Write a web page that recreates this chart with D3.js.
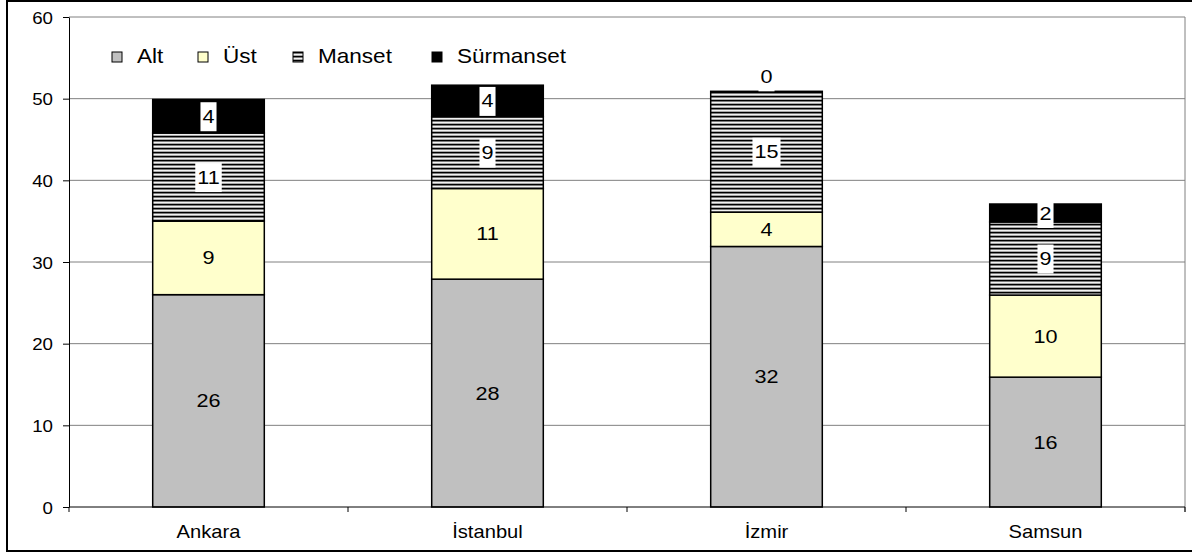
<!DOCTYPE html>
<html>
<head>
<meta charset="utf-8">
<script src="https://cdn.jsdelivr.net/npm/d3@7"></script>
<style>
  body { margin: 0; background: #fff; }
  text { font-family: Arial, "Liberation Sans", sans-serif; fill: #000; }
</style>
</head>
<body>
<div id="chart"></div>
<script>
const categories = ['Ankara', 'İstanbul', 'İzmir', 'Samsun'];
const keys = ['Alt', 'Üst', 'Manset', 'Sürmanset'];
const alt = [26, 27.9, 31.9, 15.9];
const ust = [9, 11.1, 4.2, 10.05];
const manset = [10.8, 8.8, 14.8, 8.95];
const surmanset = [4.1, 3.85, 0, 2.2];
const yTicks = [0, 10, 20, 30, 40, 50, 60];

const dims = { width: 1192, height: 556 };
const plot = { left: 69, right: 1185, top: 17, bottom: 507 };
const sx = 1.17; // text in the source is stretched sideways

const rows = categories.map((c, i) => ({
    cat: c, 'Alt': alt[i], 'Üst': ust[i], 'Manset': manset[i], 'Sürmanset': surmanset[i]
}));

const svg = d3.select('#chart')
    .append('svg')
    .attr('width', dims.width)
    .attr('height', dims.height);

// hatch for Manset
const pat = svg.append('defs').append('pattern')
    .attr('id', 'hatch')
    .attr('patternUnits', 'userSpaceOnUse')
    .attr('width', 8).attr('height', 4);
[['#000', 0], ['#7a7a7a', 1], ['#f2f2f2', 2], ['#a8a8a8', 3]].forEach(([c, y]) => {
    pat.append('rect').attr('x', 0).attr('y', y).attr('width', 8).attr('height', 1).attr('fill', c);
});

const fills = { 'Alt': '#c0c0c0', 'Üst': '#ffffcc', 'Manset': 'url(#hatch)', 'Sürmanset': '#000' };

// outer frame
svg.append('rect')
    .attr('x', 7).attr('y', 1)
    .attr('width', 1200).attr('height', 550)
    .attr('fill', '#fff')
    .attr('stroke', '#000').attr('stroke-width', 2);

const x = d3.scaleBand()
    .domain(categories)
    .range([plot.left, plot.right])
    .paddingInner(0.6)
    .paddingOuter(0.3);

const y = d3.scaleLinear()
    .domain([0, 60])
    .range([plot.bottom, plot.top]);

// gridlines
svg.append('g')
    .selectAll('line')
    .data(yTicks.filter(d => d > 0))
    .join('line')
    .attr('x1', plot.left).attr('x2', plot.right)
    .attr('y1', d => y(d)).attr('y2', d => y(d))
    .attr('stroke', '#808080').attr('stroke-width', 1);

svg.append('line')
    .attr('x1', plot.right).attr('x2', plot.right)
    .attr('y1', plot.top).attr('y2', plot.bottom + 5)
    .attr('stroke', '#808080');

// y axis
const yAxis = svg.append('g')
    .attr('transform', `translate(${plot.left},0)`)
    .call(d3.axisLeft(y).tickValues(yTicks).tickSize(6).tickSizeOuter(0));
yAxis.select('.domain').attr('stroke', '#000');
yAxis.selectAll('.tick line').attr('stroke', '#000');
yAxis.selectAll('.tick text')
    .attr('x', null).attr('dy', null)
    .attr('transform', `translate(-16,6) scale(${sx},1)`)
    .attr('text-anchor', 'end')
    .style('font-size', '16px')
    .style('font-family', 'Arial, "Liberation Sans", sans-serif');
yAxis.attr('font-size', null).attr('font-family', null);

// stacked bars
const stacked = d3.stack().keys(keys)(rows);

const layers = svg.append('g')
    .selectAll('g')
    .data(stacked)
    .join('g')
    .attr('fill', d => fills[d.key]);

layers.selectAll('rect')
    .data(d => d)
    .join('rect')
    .attr('x', d => x(d.data.cat))
    .attr('y', d => y(d[1]))
    .attr('width', x.bandwidth())
    .attr('height', d => y(d[0]) - y(d[1]))
    .attr('stroke', '#000')
    .attr('stroke-width', 1.5);

// x axis
svg.append('line')
    .attr('x1', plot.left).attr('x2', plot.right)
    .attr('y1', plot.bottom).attr('y2', plot.bottom)
    .attr('stroke', '#000');

const step = x.step();
svg.append('g')
    .selectAll('line')
    .data(d3.range(categories.length + 1))
    .join('line')
    .attr('x1', i => plot.left + i * step).attr('x2', i => plot.left + i * step)
    .attr('y1', plot.bottom).attr('y2', plot.bottom + 5)
    .attr('stroke', '#000');

svg.append('g')
    .selectAll('text')
    .data(categories)
    .join('text')
    .attr('transform', d => `translate(${x(d) + x.bandwidth() / 2},538) scale(1.12,1)`)
    .attr('text-anchor', 'middle')
    .style('font-size', '18px')
    .text(d => d);

// data labels
const fmt = d3.format('.0f');
const boxed = { 'Manset': true, 'Sürmanset': true };

stacked.forEach(layer => {
    layer.forEach(d => {
        const v = d[1] - d[0];
        let cy = (y(d[0]) + y(d[1])) / 2;
        if (v < 0.5) cy -= 15;
        const cx = x(d.data.cat) + x.bandwidth() / 2;
        const g = svg.append('g').attr('transform', `translate(${cx},${cy})`);
        const t = g.append('text')
            .attr('text-anchor', 'middle')
            .attr('y', 6.5)
            .attr('transform', `scale(${sx},1)`)
            .style('font-size', '18.5px')
            .text(fmt(v));
        if (boxed[layer.key]) {
            const w = t.node().getComputedTextLength() * sx + 4;
            g.insert('rect', 'text')
                .attr('x', -w / 2).attr('y', -14)
                .attr('width', w).attr('height', 29)
                .attr('fill', '#fff');
        }
    });
});

// legend
const legendX = [112, 198, 293, 432];
const legend = svg.append('g')
    .selectAll('g')
    .data(keys)
    .join('g')
    .attr('transform', (d, i) => `translate(${legendX[i]},52)`);

legend.append('rect')
    .attr('width', 10).attr('height', 10)
    .attr('fill', d => fills[d])
    .attr('stroke', '#000').attr('stroke-width', 1);

legend.append('text')
    .attr('transform', `translate(25,11) scale(1.1,1)`)
    .style('font-size', '20.5px')
    .text(d => d);
</script>
</body>
</html>
